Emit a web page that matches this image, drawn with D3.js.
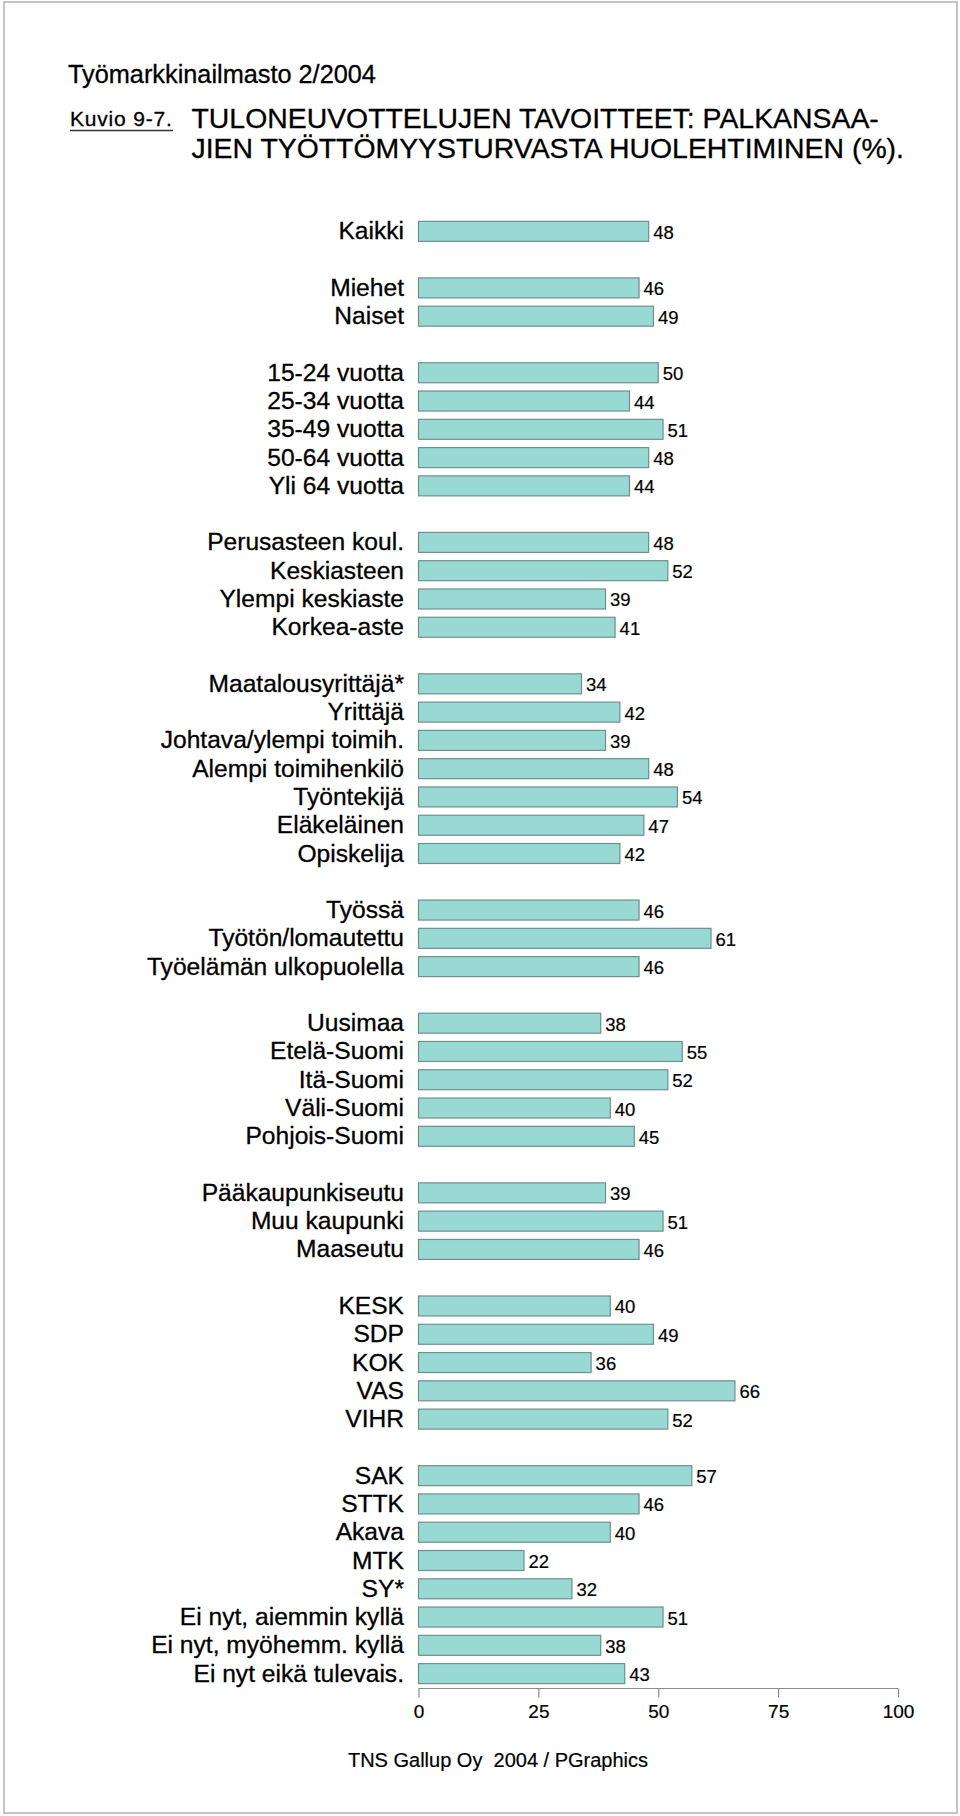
<!DOCTYPE html>
<html>
<head>
<meta charset="utf-8">
<script src="https://cdn.jsdelivr.net/npm/d3@7"></script>
<style>
  html, body { margin: 0; padding: 0; background: #fff; }
  svg text { font-family: Arial, "Liberation Sans", sans-serif; fill: #000; stroke: #000; stroke-width: 0.3px; }
</style>
</head>
<body>
<svg id="chart" width="960" height="1816"></svg>
<script>
// ---- Data ----
const categories = [
  "Kaikki",
  "Miehet", "Naiset",
  "15-24 vuotta", "25-34 vuotta", "35-49 vuotta", "50-64 vuotta", "Yli 64 vuotta",
  "Perusasteen koul.", "Keskiasteen", "Ylempi keskiaste", "Korkea-aste",
  "Maatalousyrittäjä*", "Yrittäjä", "Johtava/ylempi toimih.", "Alempi toimihenkilö", "Työntekijä", "Eläkeläinen", "Opiskelija",
  "Työssä", "Työtön/lomautettu", "Työelämän ulkopuolella",
  "Uusimaa", "Etelä-Suomi", "Itä-Suomi", "Väli-Suomi", "Pohjois-Suomi",
  "Pääkaupunkiseutu", "Muu kaupunki", "Maaseutu",
  "KESK", "SDP", "KOK", "VAS", "VIHR",
  "SAK", "STTK", "Akava", "MTK", "SY*", "Ei nyt, aiemmin kyllä", "Ei nyt, myöhemm. kyllä", "Ei nyt eikä tulevais."
];
const values = [
  48,
  46, 49,
  50, 44, 51, 48, 44,
  48, 52, 39, 41,
  34, 42, 39, 48, 54, 47, 42,
  46, 61, 46,
  38, 55, 52, 40, 45,
  39, 51, 46,
  40, 49, 36, 66, 52,
  57, 46, 40, 22, 32, 51, 38, 43
];
const groupSizes = [1, 2, 5, 4, 7, 3, 5, 3, 5, 8];
const tickValues = [0, 25, 50, 75, 100];
const headerLine = "Työmarkkinailmasto 2/2004";
const figureLabel = "Kuvio 9-7.";
const titleLines = ["TULONEUVOTTELUJEN TAVOITTEET: PALKANSAA-", "JIEN TYÖTTÖMYYSTURVASTA HUOLEHTIMINEN (%)."];
const footer = "TNS Gallup Oy  2004 / PGraphics";

// ---- Build slot list (bars with empty gap slots between groups) ----
const rows = [];
let slot = 0, k = 0;
groupSizes.forEach((n, gi) => {
  if (gi > 0) slot++; // gap
  for (let j = 0; j < n; j++) {
    rows.push({ label: categories[k], value: values[k], slot: slot });
    k++; slot++;
  }
});
const nSlots = slot;

const svg = d3.select("#chart");

// page frame
svg.append("rect")
  .attr("x", 4).attr("y", 2).attr("width", 953).attr("height", 1811)
  .attr("fill", "none").attr("stroke", "#c4c4c4").attr("stroke-width", 2);

// header
svg.append("text").attr("x", 68).attr("y", 83)
  .style("font-size", "25.3px").text(headerLine);

svg.append("text").attr("x", 70).attr("y", 126)
  .style("font-size", "21px").style("letter-spacing", "0.8px").text(figureLabel);
svg.append("line").attr("x1", 70).attr("x2", 173).attr("y1", 130.5).attr("y2", 130.5)
  .attr("stroke", "#333").attr("stroke-width", 1.5);

svg.selectAll("text.title").data(titleLines).join("text")
  .attr("class", "title")
  .attr("x", 191.5)
  .attr("y", (d, i) => 128 + i * 30)
  .style("font-size", "28.4px")
  .text(d => d);

// ---- Scales ----
const x = d3.scaleLinear().domain([0, 100]).range([418.5, 898]);
const y = d3.scaleBand()
  .domain(d3.range(nSlots))
  .range([217.2, 217.2 + nSlots * 28.28])
  .paddingInner(0.293)
  .paddingOuter(0.1465);

const g = svg.append("g");

g.selectAll("rect.bar").data(rows).join("rect")
  .attr("class", "bar")
  .attr("x", x(0))
  .attr("y", d => y(d.slot))
  .attr("width", d => x(d.value) - x(0))
  .attr("height", y.bandwidth())
  .attr("fill", "#98d9d4")
  .attr("stroke", "#6f8f8d")
  .attr("stroke-width", 1.2);

g.selectAll("text.cat").data(rows).join("text")
  .attr("class", "cat")
  .attr("x", 404)
  .attr("y", d => y(d.slot) + y.bandwidth() / 2 + 8)
  .attr("text-anchor", "end")
  .style("font-size", "24.6px")
  .text(d => d.label);

g.selectAll("text.val").data(rows).join("text")
  .attr("class", "val")
  .attr("x", d => x(d.value) + 4.5)
  .attr("y", d => y(d.slot) + y.bandwidth() / 2 + 7.5)
  .style("font-size", "18.5px")
  .style("stroke-width", "0.2px")
  .text(d => d.value);

// ---- Axis ----
const axisY = 1688.5;
const axis = d3.axisBottom(x).tickValues(tickValues).tickSize(9).tickPadding(7).tickFormat(d3.format("d"));
const ag = svg.append("g").attr("transform", `translate(0,${axisY})`).call(axis);
ag.select(".domain").attr("stroke", "#8a8a8a").attr("stroke-width", 1.2).attr("d", `M${x(0)},0H${x(100)}`);
ag.selectAll(".tick line").attr("stroke", "#8a8a8a").attr("stroke-width", 1.2);
ag.selectAll(".tick text").style("font-size", "19px").style("font-family", "Arial, 'Liberation Sans', sans-serif")
  .attr("fill", "#000").style("stroke", "#000").style("stroke-width", "0.2px");

// footer
svg.append("text").attr("x", 498).attr("y", 1767)
  .attr("text-anchor", "middle")
  .style("font-size", "20px").style("white-space", "pre").style("stroke-width", "0.2px")
  .text(footer);
</script>
</body>
</html>
